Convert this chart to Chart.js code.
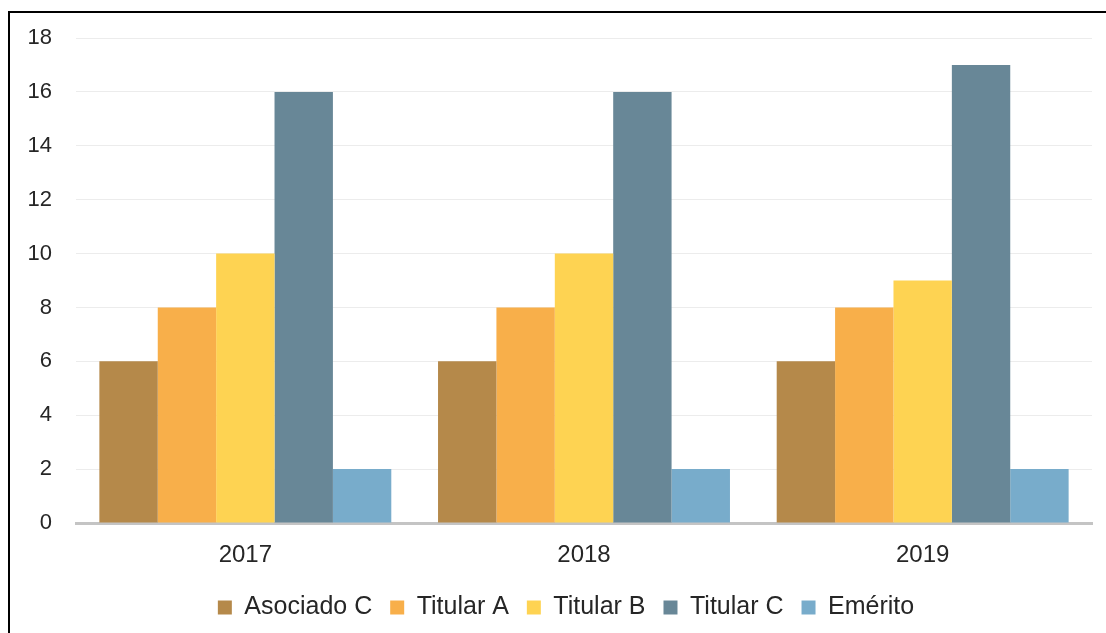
<!DOCTYPE html>
<html>
<head>
<meta charset="utf-8">
<script src="https://cdn.jsdelivr.net/npm/chart.js@4/dist/chart.umd.min.js"></script>
<style>
  html, body { margin: 0; padding: 0; background: #fff; overflow: hidden; }
  #frame { position: absolute; left: 8px; top: 11px; width: 1200px; height: 700px; border: 2px solid #000; box-sizing: border-box; }
  #wrap { position: absolute; left: 0; top: 0; width: 1106px; height: 633px; }
</style>
</head>
<body>
<div id="frame"></div>
<div id="wrap"><canvas id="chart" width="1106" height="633"></canvas></div>
<script>
const years = ["2017", "2018", "2019"];

const seriesNames = ["Asociado C", "Titular A", "Titular B", "Titular C", "Emérito"];
const asociadoC = [6, 6, 6];
const titularA = [8, 8, 8];
const titularB = [10, 10, 9];
const titularC = [16, 16, 17];
const emerito = [2, 2, 2];

const colors = ["#B5894A", "#F8AF4A", "#FED352", "#688797", "#78ACCB"];

const yTicks = [0, 2, 4, 6, 8, 10, 12, 14, 16, 18];

const values = [asociadoC, titularA, titularB, titularC, emerito];

const font = "'Liberation Sans', Arial, sans-serif";
const textColor = "#262626";

// the original legend sits a bit right of the canvas centre
const shiftLegend = {
  id: "shiftLegend",
  afterLayout(chart) {
    if (chart.legend) chart.legend.left += 40;
  }
};

const ctx = document.getElementById("chart").getContext("2d");

new Chart(ctx, {
  type: "bar",
  data: {
    labels: years,
    datasets: seriesNames.map((name, i) => ({
      label: name,
      data: values[i],
      backgroundColor: colors[i],
      borderWidth: 0,
      categoryPercentage: 0.862,
      barPercentage: 1
    }))
  },
  plugins: [shiftLegend],
  options: {
    responsive: false,
    animation: false,
    layout: {
      padding: { left: 0, right: 14, top: 38, bottom: 3 }
    },
    plugins: {
      tooltip: { enabled: false },
      legend: {
        position: "bottom",
        labels: {
          boxWidth: 14,
          boxHeight: 14,
          padding: 18,
          color: textColor,
          font: { family: font, size: 25 }
        }
      }
    },
    scales: {
      x: {
        afterFit: (scale) => {
          scale.height = 54;
        },
        grid: { display: false, drawTicks: false },
        border: { display: true, color: "#c4c4c4", width: 3 },
        ticks: {
          color: textColor,
          padding: 18,
          font: { family: font, size: 24 }
        }
      },
      y: {
        min: 0,
        max: 18,
        afterBuildTicks: (scale) => {
          scale.ticks = yTicks.map(v => ({ value: v }));
        },
        afterFit: (scale) => {
          scale.width = 76;
        },
        grid: { color: "#ececec", lineWidth: 1, drawTicks: false },
        border: { display: false },
        ticks: {
          color: textColor,
          padding: 24,
          font: { family: font, size: 22 }
        }
      }
    }
  }
});
</script>
</body>
</html>
